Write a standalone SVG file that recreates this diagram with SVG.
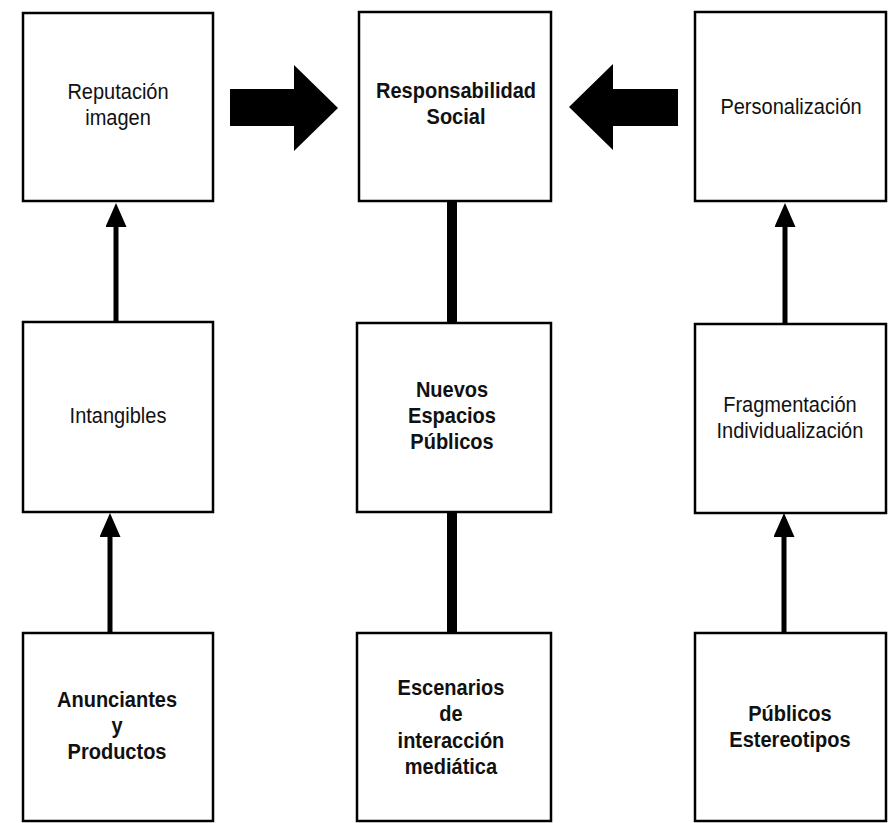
<svg xmlns="http://www.w3.org/2000/svg" width="896" height="823" viewBox="0 0 896 823">
  <style>
    .box { fill: #ffffff; stroke: #000000; stroke-width: 2.5; }
    .t { font-family: "Liberation Sans", Arial, Helvetica, sans-serif; font-size: 22.5px; fill: #111111; text-anchor: middle; }
    .b { font-weight: bold; }
    .conn { stroke: #000000; stroke-width: 5; fill: none; }
    .thick { fill: #000000; }
    .big { fill: #000000; }
  </style>
  <defs>
    <marker id="head" viewBox="0 0 24 21" refX="0" refY="10.5" markerWidth="24" markerHeight="21" markerUnits="userSpaceOnUse" orient="auto">
      <path d="M0,0 L24,10.5 L0,21 z" fill="#000000"/>
    </marker>
  </defs>
  <rect width="896" height="823" fill="#ffffff"/>

  <g id="connectors">
    <line class="conn" x1="116" y1="322" x2="116" y2="227" marker-end="url(#head)"/>
    <line class="conn" x1="110" y1="632" x2="110" y2="537" marker-end="url(#head)"/>
    <line class="conn" x1="785" y1="323" x2="785" y2="227" marker-end="url(#head)"/>
    <line class="conn" x1="784" y1="632" x2="784" y2="537" marker-end="url(#head)"/>
    <rect class="thick" x="447" y="201" width="10" height="122"/>
    <rect class="thick" x="447" y="512" width="10" height="121"/>
    <polygon class="big" points="230,89 294,89 294,65 338,108 294,151 294,126 230,126"/>
    <polygon class="big" points="678,89 613,89 613,64 569,107 613,150 613,126 678,126"/>
  </g>

  <g id="reputacion">
    <rect class="box" x="23" y="13" width="190" height="188"/>
    <text class="t" transform="scale(0.89,1)" x="132.6" y="99">Reputación</text>
    <text class="t" transform="scale(0.89,1)" x="132.6" y="125">imagen</text>
  </g>
  <g id="responsabilidad">
    <rect class="box" x="359" y="12" width="192" height="189"/>
    <text class="t b" transform="scale(0.89,1)" x="512.4" y="98">Responsabilidad</text>
    <text class="t b" transform="scale(0.89,1)" x="512.4" y="124">Social</text>
  </g>
  <g id="personalizacion">
    <rect class="box" x="695" y="12" width="191" height="189"/>
    <text class="t" transform="scale(0.89,1)" x="888.8" y="114">Personalización</text>
  </g>

  <g id="intangibles">
    <rect class="box" x="23" y="322" width="190" height="190"/>
    <text class="t" transform="scale(0.89,1)" x="132.6" y="423">Intangibles</text>
  </g>
  <g id="nuevos">
    <rect class="box" x="357" y="323" width="194" height="189"/>
    <text class="t b" transform="scale(0.89,1)" x="507.9" y="397">Nuevos</text>
    <text class="t b" transform="scale(0.89,1)" x="507.9" y="423">Espacios</text>
    <text class="t b" transform="scale(0.89,1)" x="507.9" y="449">Públicos</text>
  </g>
  <g id="fragmentacion">
    <rect class="box" x="695" y="324" width="191" height="189"/>
    <text class="t" transform="scale(0.89,1)" x="887.6" y="412">Fragmentación</text>
    <text class="t" transform="scale(0.89,1)" x="887.6" y="438">Individualización</text>
  </g>

  <g id="anunciantes">
    <rect class="box" x="23" y="633" width="190" height="188"/>
    <text class="t b" transform="scale(0.89,1)" x="131.5" y="707">Anunciantes</text>
    <text class="t b" transform="scale(0.89,1)" x="131.5" y="733">y</text>
    <text class="t b" transform="scale(0.89,1)" x="131.5" y="759">Productos</text>
  </g>
  <g id="escenarios">
    <rect class="box" x="357" y="633" width="194" height="188"/>
    <text class="t b" transform="scale(0.89,1)" x="506.7" y="695">Escenarios</text>
    <text class="t b" transform="scale(0.89,1)" x="506.7" y="721">de</text>
    <text class="t b" transform="scale(0.89,1)" x="506.7" y="748">interacción</text>
    <text class="t b" transform="scale(0.89,1)" x="506.7" y="774">mediática</text>
  </g>
  <g id="publicos">
    <rect class="box" x="695" y="633" width="191" height="188"/>
    <text class="t b" transform="scale(0.89,1)" x="887.6" y="721">Públicos</text>
    <text class="t b" transform="scale(0.89,1)" x="887.6" y="747">Estereotipos</text>
  </g>
</svg>
